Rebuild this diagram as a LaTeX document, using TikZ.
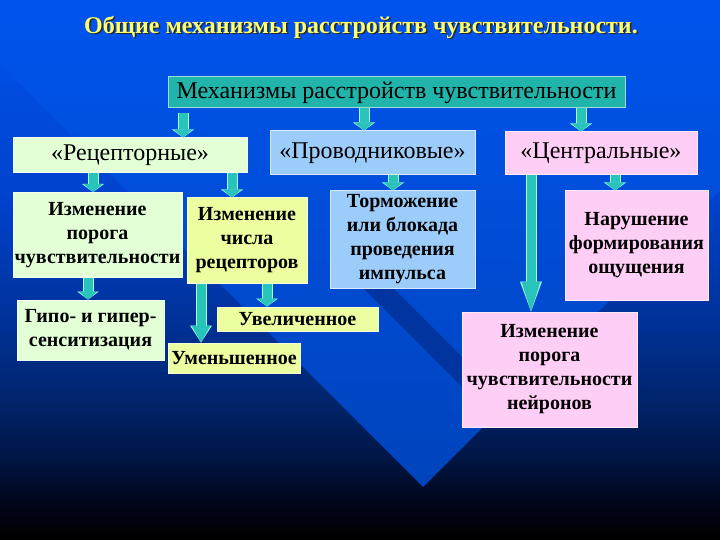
\documentclass[tikz,border=0pt]{standalone}
\usepackage{fontspec}
\setmainfont{Liberation Serif}
\usetikzlibrary{arrows.meta}
\definecolor{bgA}{RGB}{0,6,28}
\definecolor{bgB}{RGB}{0,24,75}
\definecolor{bgC}{RGB}{0,40,120}
\definecolor{bgD}{RGB}{0,52,162}
\definecolor{bgE}{RGB}{0,66,205}
\definecolor{bgF}{RGB}{0,84,238}
\definecolor{bandtop}{RGB}{0,84,238}
\definecolor{bandbot}{RGB}{0,68,188}
\definecolor{stripe}{RGB}{0,48,150}
\definecolor{titley}{RGB}{255,255,110}
\definecolor{titleshade}{RGB}{40,40,40}
\definecolor{palegreen}{RGB}{226,255,214}
\definecolor{yellowgreen}{RGB}{236,255,160}
\definecolor{lightblue}{RGB}{156,204,250}
\definecolor{pinkbox}{RGB}{255,206,246}
\definecolor{tealbox}{RGB}{32,180,170}
\definecolor{arrfill}{RGB}{40,196,186}
\definecolor{arredge}{RGB}{170,250,238}
\pgfdeclareverticalshading{bgshade}{100bp}{color(0bp)=(black); color(25bp)=(black); color(28.7bp)=(bgA); color(33.3bp)=(bgB); color(39.8bp)=(bgC); color(47.2bp)=(bgD); color(56.5bp)=(bgE); color(75bp)=(bgF); color(100bp)=(bgF)}
\newcommand{\shadowtext}[1]{\rlap{\hspace{1.5pt}\raisebox{-1.5pt}{\textcolor{titleshade}{#1}}}\textcolor{titley}{#1}}
\tikzset{
  boxbase/.style={rectangle, inner sep=0pt, align=center, line width=1pt, text=black},
  regtext/.style={font=\fontsize{24}{28}\selectfont},
  boldtext/.style={font=\fontsize{20}{24}\selectfont\bfseries},
  gbox/.style={boxbase, fill=palegreen, draw=white!60!palegreen},
  ybox/.style={boxbase, fill=yellowgreen, draw=white!60!yellowgreen},
  bbox/.style={boxbase, fill=lightblue, draw=white!60!lightblue},
  pbox/.style={boxbase, fill=pinkbox, draw=white!60!pinkbox},
  tbox/.style={boxbase, fill=tealbox, draw=white!55!tealbox},
  titletext/.style={font=\fontsize{24}{28}\selectfont\bfseries},
  blk/.style={draw=arrfill, line width=9pt, -{Triangle[width=19pt,length=#1,line width=0pt]},
    preaction={draw=arredge, line width=11pt, -{Triangle[width=22pt,length=#1,line width=0pt]}}},
  blk/.default=8pt
}
\begin{document}
\begin{tikzpicture}[x=1pt,y=-1pt]
\useasboundingbox (0,0) rectangle (720,540);
% background
\shade[shading=bgshade] (0,0) rectangle (720,540);
\shade[top color=bandtop, bottom color=bandbot] (0,0) -- (0,64) -- (423,487) -- (720,190) -- (720,0) -- cycle;
\begin{scope}
  \clip (0,64) -- (423,487) -- (720,190) -- (720,0) -- (0,0) -- cycle;
  \fill[stripe, opacity=0.8] (330,255) -- (530,455) -- (560,455) -- (360,255) -- cycle;
\end{scope}
% title
\node[titletext] (title) at (361,28) {\shadowtext{Общие механизмы расстройств чувствительности.}};
% boxes
\node[tbox, regtext, minimum width=457pt, minimum height=31pt] (main) at (396.5,92.5) {Механизмы расстройств чувствительности};
\node[gbox, regtext, minimum width=234pt, minimum height=35pt] (rec) at (130,155.5) {«Рецепторные»};
\node[bbox, regtext, minimum width=205pt, minimum height=44pt] (prov) at (372.5,153) {«Проводниковые»};
\node[pbox, regtext, minimum width=192pt, minimum height=43pt] (cent) at (601,153.5) {«Центральные»};
\node[gbox, boldtext, minimum width=169pt, minimum height=85pt] (porog) at (97.5,235) {Изменение\\порога\\чувствительности};
\node[ybox, boldtext, minimum width=120pt, minimum height=85pt] (chisla) at (247,240.5) {Изменение\\числа\\рецепторов};
\node[bbox, boldtext, minimum width=145pt, minimum height=97pt] (torm) at (402.5,239.5) {Торможение\\или блокада\\проведения\\импульса};
\node[pbox, boldtext, minimum width=143pt, minimum height=109pt] (narush) at (636.5,245.5) {Нарушение\\формирования\\ощущения};
\node[gbox, boldtext, minimum width=147pt, minimum height=60pt] (gipo) at (90.5,330) {Гипо- и гипер-\\сенситизация};
\node[ybox, boldtext, minimum width=161pt, minimum height=24pt] (uvel) at (297.5,319) {Увеличенное};
\node[ybox, boldtext, minimum width=132pt, minimum height=30pt] (umen) at (234,358) {Уменьшенное};
\node[pbox, boldtext, minimum width=175pt, minimum height=115pt] (neir) at (549.5,369.5) {Изменение\\порога\\чувствительности\\нейронов};
% arrow x positions
\coordinate (xa) at (183,0);
\coordinate (xb) at (364,0);
\coordinate (xc) at (581,0);
\coordinate (xd) at (93,0);
\coordinate (xe) at (232,0);
\coordinate (xf) at (393,0);
\coordinate (xg) at (531,0);
\coordinate (xh) at (615,0);
\coordinate (xi) at (88,0);
\coordinate (xj) at (201,0);
\coordinate (xk) at (267,0);
% arrows
\draw[blk, shorten <=5pt] (main.south -| xa) -- (rec.north -| xa);
\draw[blk] (main.south -| xb) -- (prov.north -| xb);
\draw[blk] (main.south -| xc) -- (cent.north -| xc);
\draw[blk] (rec.south -| xd) -- (porog.north -| xd);
\draw[blk] (rec.south -| xe) -- (chisla.north -| xe);
\draw[blk] (prov.south -| xf) -- (torm.north -| xf);
\draw[blk=30pt] (cent.south -| xg) -- (neir.north -| xg);
\draw[blk] (cent.south -| xh) -- (narush.north -| xh);
\draw[blk] (porog.south -| xi) -- (gipo.north -| xi);
\draw[blk=17pt] (chisla.south -| xj) -- (umen.north -| xj);
\draw[blk] (chisla.south -| xk) -- (uvel.north -| xk);
\end{tikzpicture}
\end{document}
